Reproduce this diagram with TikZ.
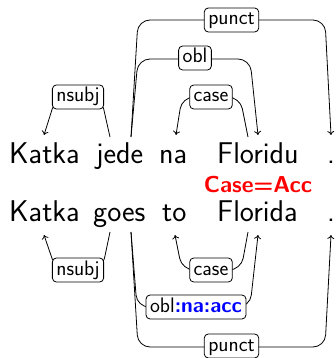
\documentclass[tikz,border=0pt]{standalone}
\usetikzlibrary{arrows.meta}
\begin{document}
\begin{tikzpicture}[x=1pt,y=-1pt,
  word/.style={inner sep=0pt,anchor=base west,font=\fontsize{30}{35}\selectfont\sffamily},
  deplabel/.style={draw,rounded corners=4pt,fill=white,inner xsep=4pt,inner ysep=2.5pt,
    text height=14.5pt,text depth=4.5pt,line width=0.8pt,font=\fontsize{21}{24}\selectfont\sffamily},
  dep/.style={line width=0.8pt,rounded corners=12pt},
  arr/.style={-{To[length=4pt,width=7pt]}}]
\useasboundingbox (0,0) rectangle (336,358);
% top sentence
\node[word] (t1) at (9,163) {Katka};
\node[word] (t2) at (96,163) {jede};
\node[word] (t3) at (159,163) {na};
\node[word] (t4) at (217,163) {Floridu};
\node[word] (t5) at (327,163) {.};
% feature
\node[inner sep=0pt,anchor=base,text=red,font=\fontsize{23}{27}\selectfont\sffamily\bfseries] (feat) at (258,192.5) {Case=Acc};
% bottom sentence
\node[word] (b1) at (9,221) {Katka};
\node[word] (b2) at (93,221) {goes};
\node[word] (b3) at (162,221) {to};
\node[word] (b4) at (217,221) {Florida};
\node[word] (b5) at (327,221) {.};
% top anchor points
\coordinate (t1a) at (44,135);
\coordinate (t2a) at (110,137);
\coordinate (t2b) at (131,137);
\coordinate (t3a) at (176,135);
\coordinate (t4a) at (248,137);
\coordinate (t4b) at (258,135);
\coordinate (t5a) at (331,135);
% bottom anchor points
\coordinate (b1a) at (44,235);
\coordinate (b2a) at (110,232);
\coordinate (b2b) at (131,232);
\coordinate (b3a) at (175,235);
\coordinate (b4a) at (248,232);
\coordinate (b4b) at (258,235);
\coordinate (b5a) at (331,235);
% top edges
\draw[dep,arr] (t2a) -- (101,97) -- (56,97) -- (t1a);
\draw[dep,arr] (t4a) -- (240,97) -- (182,97) -- (t3a);
\draw[dep,arr] (t2b) -- (138,59) -- (250,59) -- (t4b);
\draw[dep,arr] (t2b) -- (138,20) -- (325,20) -- (t5a);
\node[deplabel] (tl1) at (78,97) {nsubj};
\node[deplabel] (tl2) at (211,97) {case};
\node[deplabel] (tl3) at (195,58) {obl};
\node[deplabel] (tl4) at (231.5,20) {punct};
% bottom edges
\draw[dep,arr] (b2a) -- (102,270) -- (56,270) -- (b1a);
\draw[dep,arr] (b4a) -- (241,270) -- (182,270) -- (b3a);
\draw[dep,arr] (b2b) -- (137,307) -- (250,307) -- (b4b);
\draw[dep,arr] (b2b) -- (138,347) -- (325,347) -- (b5a);
\node[deplabel] (bl1) at (78,270) {nsubj};
\node[deplabel] (bl2) at (211,270) {case};
\node[deplabel] (bl3) at (196,307) {obl\textcolor{blue}{\bfseries:na:acc}};
\node[deplabel] (bl4) at (231.5,346) {punct};
\end{tikzpicture}
\end{document}
